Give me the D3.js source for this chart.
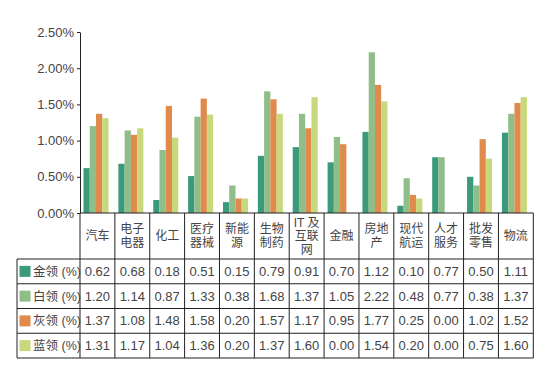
<!DOCTYPE html>
<html><head><meta charset="utf-8">
<script src="https://cdn.jsdelivr.net/npm/d3@7"></script>
<style>
body{margin:0;background:#fff;}
text{font-family:"Liberation Sans","Noto Sans CJK SC",sans-serif;fill:#444;}
</style></head>
<body><svg id="c" width="541" height="368"></svg>
<script>
const categories = ["汽车","电子\n电器","化工","医疗\n器械","新能\n源","生物\n制药","IT 及\n互联\n网","金融","房地\n产","现代\n航运","人才\n服务","批发\n零售","物流"];
const seriesNames = ["金领 (%)","白领 (%)","灰领 (%)","蓝领 (%)"];
const gold  = [0.62,0.68,0.18,0.51,0.15,0.79,0.91,0.70,1.12,0.10,0.77,0.50,1.11];
const white = [1.20,1.14,0.87,1.33,0.38,1.68,1.37,1.05,2.22,0.48,0.77,0.38,1.37];
const grey  = [1.37,1.08,1.48,1.58,0.20,1.57,1.17,0.95,1.77,0.25,0.00,1.02,1.52];
const blue  = [1.31,1.17,1.04,1.36,0.20,1.37,1.60,0.00,1.54,0.20,0.00,0.75,1.60];
const colors = ["#3b9a7b","#8fbe88","#e08b4b","#c8d87c"];
const yTicks = [0,0.5,1.0,1.5,2.0,2.5];

const series = [gold, white, grey, blue];
const svg = d3.select("#c");
const x = d3.scaleBand().domain(d3.range(categories.length)).range([80, 533.3]).padding(0);
const xs = d3.scaleBand().domain(d3.range(4)).range([3.5, 28.5]);
const y = d3.scaleLinear().domain([0, 2.5]).range([213, 32]);

// bars
series.forEach((vals, si) => {
  svg.append("g").selectAll("rect").data(vals).enter().append("rect")
    .attr("x", (d,i) => x(i) + xs(si))
    .attr("width", xs.bandwidth())
    .attr("y", d => y(d))
    .attr("height", d => y(0) - y(d))
    .attr("fill", colors[si]);
});

// y axis
const ya = svg.append("g").attr("transform","translate(80,0)")
  .call(d3.axisLeft(y).tickValues(yTicks).tickFormat(d => d.toFixed(2) + "%").tickSize(3).tickSizeOuter(0));
ya.select(".domain").attr("stroke","#222");
ya.selectAll(".tick line").attr("stroke","#222");
ya.selectAll(".tick text").attr("font-size","13px").attr("fill","#444").attr("x",-6)
  .style("font-family","'Liberation Sans',sans-serif");

// table
const lineC = "#222";
const tbl = svg.append("g");
const headerTop = 213, headerBot = 259;
const rowH = (358 - 259) / 4;
const left = 17;
const right = x.range()[1];
// horizontal lines
tbl.append("line").attr("x1",80).attr("x2",right).attr("y1",headerTop).attr("y2",headerTop).attr("stroke",lineC);
for (let r = 0; r <= 4; r++) {
  const yy = headerBot + r*rowH;
  tbl.append("line").attr("x1",left).attr("x2",right).attr("y1",yy).attr("y2",yy).attr("stroke",lineC);
}
// vertical lines
tbl.append("line").attr("x1",left).attr("x2",left).attr("y1",headerBot).attr("y2",358).attr("stroke",lineC);
for (let i = 0; i <= categories.length; i++) {
  const xx = 80 + i * x.bandwidth();
  tbl.append("line").attr("x1",xx).attr("x2",xx).attr("y1",headerTop).attr("y2",358).attr("stroke",lineC);
}
// category labels
categories.forEach((c, i) => {
  const lines = c.split("\n");
  const lh = 13.5;
  const cy = (headerTop + headerBot)/2;
  const t = tbl.append("text").attr("text-anchor","middle").attr("font-size","12px")
    .attr("x", x(i) + x.bandwidth()/2);
  lines.forEach((l, k) => {
    t.append("tspan").attr("x", x(i) + x.bandwidth()/2)
      .attr("y", cy + (k - (lines.length-1)/2)*lh).attr("dy","0.35em").text(l);
  });
});
// row labels & values
series.forEach((vals, si) => {
  const cy = headerBot + si*rowH + rowH/2;
  tbl.append("rect").attr("x",19.5).attr("y",cy-5.5).attr("width",11).attr("height",11).attr("fill",colors[si]);
  tbl.append("text").attr("x",33).attr("y",cy).attr("dy","0.35em").attr("font-size","12.5px").text(seriesNames[si]);
  vals.forEach((v, i) => {
    tbl.append("text").attr("text-anchor","middle").attr("x", x(i) + x.bandwidth()/2)
      .attr("y", cy).attr("dy","0.35em").attr("font-size","13px").text(v.toFixed(2));
  });
});
</script></body></html>
